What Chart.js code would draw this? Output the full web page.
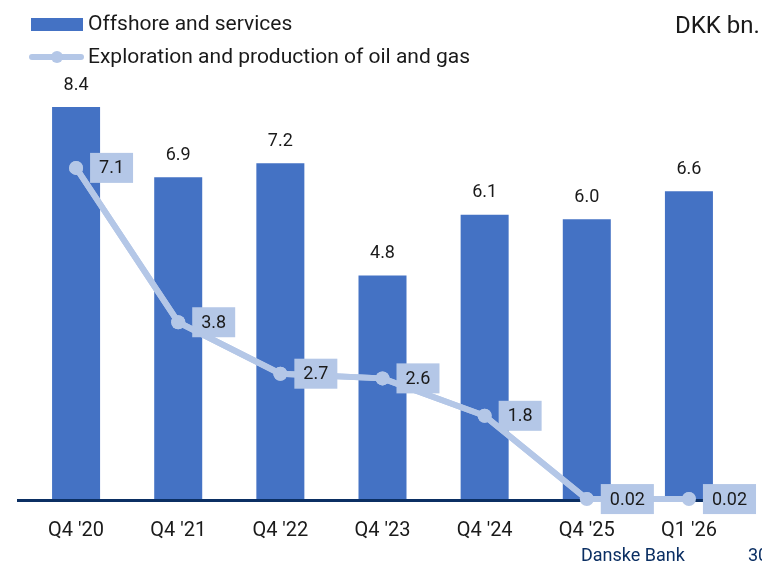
<!DOCTYPE html>
<html>
<head>
<meta charset="utf-8">
<script src="https://cdn.jsdelivr.net/npm/chart.js@4.4.1/dist/chart.umd.min.js"></script>
<style>
  html, body { margin: 0; padding: 0; background: #fff; overflow: hidden; }
  body { width: 762px; height: 563px; position: relative; font-family: Roboto, "Noto Sans", sans-serif; color: #1a1a1a; }
  #wrap { position: absolute; left: 0; top: 0; width: 762px; height: 563px; }
  .leg { position: absolute; left: 0; font-size: 21px; white-space: nowrap; }
  .leg .sw { position: absolute; }
  .leg span.txt { position: absolute; left: 88px; }
  #unit { position: absolute; left: 675px; top: 11px; font-size: 24px; }
  #foot { position: absolute; left: 581px; top: 544px; font-size: 18px; color: #0b2f63; }
  #page { position: absolute; left: 748px; top: 544px; font-size: 18px; color: #0b2f63; }
</style>
</head>
<body>
<div id="wrap"><canvas id="chart1" width="762" height="563"></canvas></div>

<div class="leg" style="top:11px;">
  <div class="sw" style="left:31px; top:7px; width:52px; height:13px; background:#4472c4;"></div>
  <span class="txt" style="top:0;">Offshore and services</span>
</div>
<div class="leg" style="top:44px;">
  <div class="sw" style="left:29px; top:10px; width:55px; height:6px; border-radius:3px; background:#b4c7e7;"></div>
  <div class="sw" style="left:51px; top:7px; width:12px; height:12px; border-radius:6px; background:#b4c7e7;"></div>
  <span class="txt" style="top:0;">Exploration and production of oil and gas</span>
</div>
<div id="unit">DKK bn.</div>
<div id="foot">Danske Bank</div>
<div id="page">30</div>

<script>
// Kvartaler og værdier (DKK mia.)
const labels = ["Q4 '20", "Q4 '21", "Q4 '22", "Q4 '23", "Q4 '24", "Q4 '25", "Q1 '26"];
const offshore = [8.4, 6.9, 7.2, 4.8, 6.1, 6.0, 6.6];
const olieGas = [7.1, 3.8, 2.7, 2.6, 1.8, 0.02, 0.02];

const BAR_COLOR = '#4472c4';
const LINE_COLOR = '#b4c7e7';

// værdier over søjler og bokse ved linjepunkter
const etiketter = {
    id: 'etiketter',
    afterDatasetsDraw(chart) {
        const c = chart.ctx;
        c.save();
        c.font = '18px Roboto, "Noto Sans", sans-serif';
        c.textAlign = 'center';
        c.textBaseline = 'middle';

        // grundlinje
        const y0 = chart.scales.y.getPixelForValue(0);
        c.fillStyle = '#0b2f63';
        c.fillRect(17, y0 - 1, 728, 3);

        const bars = chart.getDatasetMeta(1).data;
        bars.forEach((b, i) => {
            c.fillStyle = '#1a1a1a';
            c.fillText(offshore[i].toFixed(1), b.x, b.y - 22);
        });

        // linjen tegnes igen oven på grundlinjen
        const pts = chart.getDatasetMeta(0).data;
        c.strokeStyle = LINE_COLOR;
        c.lineWidth = 6;
        c.lineJoin = 'round';
        c.beginPath();
        pts.forEach((p, i) => i ? c.lineTo(p.x, p.y) : c.moveTo(p.x, p.y));
        c.stroke();
        c.fillStyle = LINE_COLOR;
        pts.forEach(p => { c.beginPath(); c.arc(p.x, p.y, 7, 0, Math.PI * 2); c.fill(); });

        pts.forEach((p, i) => {
            const txt = olieGas[i] < 0.1 ? olieGas[i].toFixed(2) : olieGas[i].toFixed(1);
            const w = c.measureText(txt).width + 18;
            const h = 30;
            c.fillStyle = LINE_COLOR;
            c.fillRect(p.x + 14, p.y - h / 2, w, h);
            c.fillStyle = '#1a1a1a';
            c.fillText(txt, p.x + 14 + w / 2, p.y + 1);
        });
        c.restore();
    }
};

const ctx1 = document.getElementById('chart1').getContext('2d');
const chart1 = new Chart(ctx1, {
    type: 'bar',
    data: {
        labels: labels,
        datasets: [{
            type: 'line',
            label: 'Exploration and production of oil and gas',
            data: olieGas,
            borderColor: LINE_COLOR,
            backgroundColor: LINE_COLOR,
            borderWidth: 6,
            pointRadius: 7,
            pointBackgroundColor: LINE_COLOR,
            pointBorderWidth: 0,
            tension: 0,
            order: 0
        }, {
            label: 'Offshore and services',
            data: offshore,
            backgroundColor: BAR_COLOR,
            barPercentage: 0.94,
            categoryPercentage: 0.5,
            order: 1
        }]
    },
    options: {
        responsive: false,
        animation: false,
        layout: { padding: { top: 79, left: 25, right: 22, bottom: 1 } },
        plugins: { legend: { display: false }, tooltip: { enabled: false } },
        scales: {
            x: {
                grid: { display: false, drawTicks: false },
                border: { display: false },
                ticks: {
                    color: '#1a1a1a',
                    padding: 19,
                    font: { family: 'Roboto, "Noto Sans", sans-serif', size: 20 }
                }
            },
            y: {
                display: false,
                min: 0,
                max: 9
            }
        }
    },
    plugins: [etiketter]
});
</script>
</body>
</html>
